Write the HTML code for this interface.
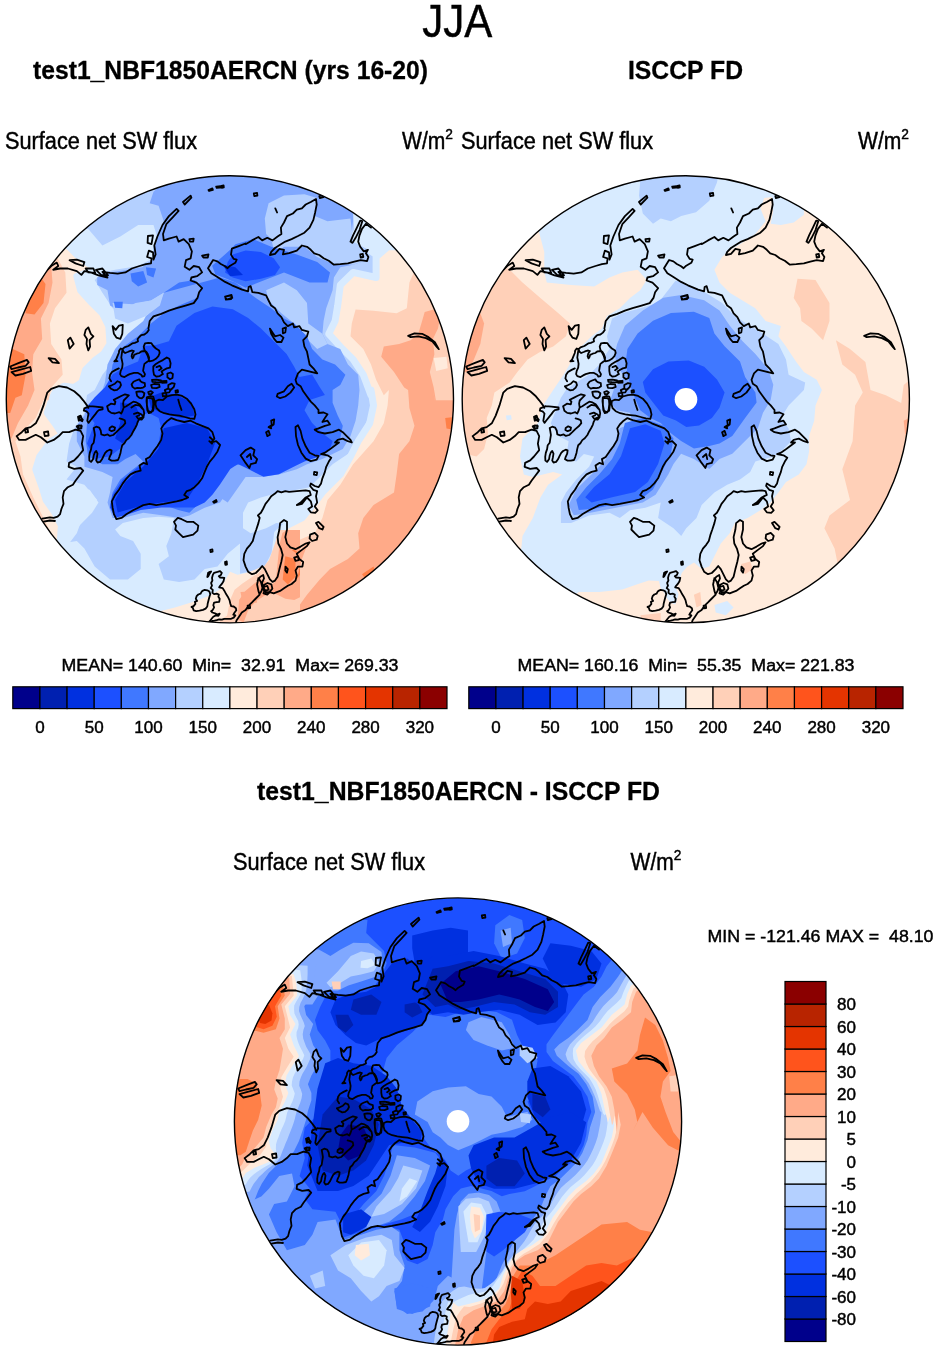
<!DOCTYPE html>
<html><head><meta charset="utf-8"><title>JJA</title>
<style>html,body{margin:0;padding:0;background:#fff}svg{display:block}
text{font-family:"Liberation Sans",sans-serif;fill:#000;stroke:#000;stroke-width:0.45px;white-space:pre}text[font-weight=bold]{stroke-width:0.3px}</style></head>
<body><svg width="938" height="1352" viewBox="0 0 938 1352">
<rect width="938" height="1352" fill="#fff"/>
<clipPath id="cl0"><circle cx="229.9" cy="399.3" r="223.6"/></clipPath>
<clipPath id="cl1"><circle cx="685.8" cy="399.3" r="223.6"/></clipPath>
<clipPath id="cl2"><circle cx="458" cy="1121.5" r="223.6"/></clipPath>
<defs><path id="coast" d="M46.1 271.1L51.2 266.0L56.8 262.6L58.3 266.0L53.2 269.8L60.1 268.5L67.8 268.5L76.8 271.1L81.4 274.9L84.4 271.1L90.8 272.4L98.5 275.4L107.5 277.5L102.4 271.8L110.0 272.9L117.7 273.6L125.4 272.4L131.8 268.5L139.5 266.0L145.9 264.2L151.0 263.4L151.5 258.3L147.1 257.0L148.9 250.6L153.0 252.4L153.5 259.6L155.6 254.4L154.3 245.5L157.4 236.5L162.5 225.0L168.9 216.1L176.6 208.9L178.6 210.9L172.7 217.3L166.3 224.2L163.0 234.0L163.8 240.4L168.9 238.6L176.6 236.5L178.6 241.6L183.7 239.1L188.8 244.2L191.9 251.4L190.6 258.3L186.0 260.1L184.7 266.7L189.4 269.8L193.7 266.0L199.1 267.2L202.1 272.4L197.0 276.2L191.4 277.5L190.6 280.5L196.5 282.6L202.1 288.2L199.1 292.3L197.5 297.9L193.7 303.1L185.5 305.6L176.6 308.2L168.9 310.7L161.2 313.8L153.5 316.4L149.7 321.0L148.4 328.6M69.6 260.1L76.8 259.6L84.4 262.1L83.2 266.0L75.5 263.4ZM85.7 268.5L93.4 268.5L95.2 272.9L88.3 272.4ZM96.0 269.8L102.4 268.5L108.0 275.4L101.1 274.9ZM147.9 236.0L153.0 235.3L151.5 244.2L147.6 242.9ZM183.0 202.0L190.6 195.6L191.4 197.6L184.7 204.5ZM208.5 190.0L212.4 188.4L212.9 190.0L209.1 191.0ZM216.2 186.6L222.6 185.9L223.1 187.4L216.7 187.9ZM189.4 239.1L193.7 238.6L193.2 241.6L189.9 241.6ZM202.1 255.7L208.5 254.4L207.8 257.5L203.4 257.5ZM225.2 296.7L231.6 295.4L231.1 299.2L225.9 299.7ZM112.6 326.1L115.7 329.9L119.0 325.6L122.8 324.8L122.3 333.8L120.3 338.9L116.4 337.6L113.9 333.8ZM85.7 329.9L88.3 327.4L90.8 333.8L93.4 336.3L89.6 340.2L90.1 346.6L88.3 350.4L86.5 344.0L87.0 338.9L84.4 335.0ZM67.8 340.2L70.4 337.6L73.7 344.0L69.6 348.6L68.6 344.0ZM48.6 358.1L55.0 358.8L58.9 363.2L52.5 362.4ZM10.2 366.5L18.4 363.2L26.9 359.9L28.7 362.4L25.6 365.8L17.9 367.5L11.5 369.1ZM11.5 372.1L20.5 369.6L30.2 367.0L31.2 370.9L23.0 373.9L15.4 375.5ZM47.3 392.6L51.2 388.8L58.9 386.2L67.0 387.5L74.2 391.3L79.3 395.7L83.2 400.3L87.0 405.4L88.3 407.9M47.3 392.6L47.3 392.6L43.5 405.4L39.7 415.6L35.8 423.3L30.7 427.1L25.6 428.4L21.8 432.2L16.6 436.1L19.2 439.9L25.6 439.9L30.7 437.3L35.8 434.8L40.9 437.3L47.3 442.5L53.7 439.9L58.9 436.1L62.7 432.2L69.1 432.2L75.5 429.7L80.6 430.9L83.2 436.1L81.9 443.7L83.2 450.1L78.0 456.5L74.2 460.4L69.1 462.9L68.6 466.8L74.2 468.8L80.6 468.0L83.2 470.6L79.3 475.7L75.5 480.8L72.9 484.7L67.8 487.2L64.0 491.1L62.7 497.5L63.5 503.9L61.4 509.0L60.1 514.1L57.6 516.7L53.7 517.9L49.9 517.4L42.2 518.7M42.2 521.8L49.9 520.5L55.0 521.0M78.0 416.9L80.6 415.6L81.9 419.4L78.8 420.7ZM78.0 425.8L81.4 425.3L81.4 428.4L78.3 428.9ZM44.0 432.2L48.1 431.5L48.6 435.5L44.8 436.1ZM25.1 429.7L27.6 428.9L28.1 432.2L25.6 432.7ZM89.8 406.2L95.6 406.6L102.6 407.5L102.6 409.4L98.8 410.1L97.5 411.3L95.6 413.9L93.0 417.1L90.5 420.3L88.5 422.9L87.3 420.9L87.9 417.1L88.5 413.5L86.6 411.3L83.8 410.7L84.3 408.4L87.3 407.1L89.8 406.2M78.7 417.1L80.2 416.5L82.8 419.7L82.2 421.2L80.0 419.7ZM76.7 426.3L79.0 425.4L81.8 426.1L81.3 428.0L77.7 428.1ZM107.1 406.2L110.9 403.7L114.8 404.3L115.4 401.7L113.8 399.8L117.6 397.9L121.2 396.0L125.0 394.3L128.8 395.4L126.3 397.9L123.7 400.5L123.1 403.7L123.7 407.5L122.4 411.3L121.2 413.5L119.3 412.2L115.0 413.5L111.2 412.9L108.4 410.7ZM109.7 428.0L112.2 426.3L115.0 427.6L114.5 430.1L111.6 431.2L109.4 429.9ZM123.7 407.5L126.3 406.2L130.1 403.7L133.3 401.7L136.5 402.4L139.7 404.3L141.6 406.9L143.6 410.1L144.2 413.3L143.6 416.5L141.6 417.7L139.7 418.4L137.8 421.6L136.8 424.8L135.2 428.0L133.3 431.2L131.4 435.0L128.8 438.2L126.3 440.1L124.4 443.3L122.2 445.2L121.2 449.1L120.5 452.9L119.3 456.8L118.0 460.0L114.8 460.6L111.6 460.6L109.0 459.3L109.7 456.8L111.2 453.6L111.6 450.4L109.7 449.7L107.1 451.0L105.2 452.9L103.5 456.1L102.0 459.3L100.1 461.9L97.5 462.5L96.2 460.6L96.9 457.4L97.5 453.6L96.2 451.0L94.9 452.3L93.7 455.5L93.0 459.3L91.1 461.9L89.4 460.6L89.2 456.8L89.8 452.9L91.1 449.1L91.7 445.2L93.7 442.7L94.3 438.8L94.9 435.0L94.3 431.2L93.7 428.0L96.2 426.7L99.2 427.6L100.7 430.5L101.3 434.4L104.3 435.3L107.7 434.4L109.9 435.9L113.2 435.0L116.3 432.2L119.6 428.9L122.7 426.3L125.3 423.2L124.8 420.3L122.2 419.1L119.6 418.4M131.4 407.5L135.2 404.9L139.7 405.6L142.3 408.8M134.0 413.9L137.8 412.6L141.6 414.5L143.6 417.1L141.6 419.7L138.4 419.0L136.5 416.5L139.1 415.2M146.8 397.3L150.0 396.0L153.2 396.6L154.4 400.5L153.8 405.6L153.2 410.7L150.6 412.0L148.0 410.7L147.0 405.6L146.5 401.1ZM116.4 519.2L113.9 514.1L112.6 507.7L111.8 501.3L115.1 494.9L119.0 489.8L122.8 483.4L126.7 478.3L130.5 474.4L135.6 471.9L140.7 470.6L139.5 465.5L143.3 462.9L147.1 464.2L145.9 459.1L149.7 457.0L153.5 451.4L157.4 446.3L161.2 439.9L162.5 433.5L161.2 428.4L163.8 424.5L167.6 420.7L171.4 418.1L176.6 420.2L184.2 422.0L190.6 420.7L195.8 423.3L202.1 425.8L208.5 428.4L212.4 432.2L214.4 438.6L211.1 442.5L216.2 441.2L220.1 445.0L217.5 451.4L213.7 457.0L209.8 461.6L206.8 466.8L204.7 471.9L202.1 478.3L198.3 483.4L194.5 487.2L190.6 489.8L186.8 491.1L184.2 494.9L188.1 497.5L182.2 500.0L176.6 501.3L170.2 502.6L163.8 503.9L156.1 505.1L149.7 503.9L143.3 505.1L138.2 507.7L133.1 510.3L126.7 514.1L121.5 517.9ZM209.8 437.3L212.9 439.9L211.9 443.7L209.3 441.2M174.0 521.8L177.8 517.9L181.7 519.2L186.8 521.8L193.2 521.8L198.3 525.6L197.5 530.7L193.2 534.6L188.1 535.9L183.0 537.1L179.1 533.3L175.3 529.5L176.0 525.6ZM213.2 501.8L216.2 500.0L216.7 501.6L213.9 502.8ZM210.3 549.9L212.4 549.4L212.6 551.7L210.6 552.0ZM225.2 562.0L226.7 561.4L227.0 564.5L225.4 564.8ZM209.9 622.7L212.4 621.0L214.5 620.6L216.7 620.1L219.2 619.3L221.8 619.7L224.3 618.8L227.8 618.8L231.2 618.8L233.7 617.6L235.4 615.4L233.3 614.6L234.6 612.5L236.3 610.3L235.9 608.2L233.7 606.5L231.2 606.1L230.3 603.5L229.5 600.1L227.8 596.7L226.1 594.1L224.3 590.7L222.6 588.1L219.2 587.3L219.7 586.4L221.8 583.9L223.5 581.3L224.3 577.9L220.1 577.5L218.8 576.2L220.9 574.9L221.8 572.8L220.1 571.1L217.5 571.9L214.1 572.8L212.8 574.9L212.0 577.9L212.4 580.5L211.1 583.0L212.0 585.6L210.7 588.1L212.8 589.9L212.4 592.8L214.1 594.1L216.7 593.7L218.8 594.5L218.4 596.7L219.7 598.8L219.2 601.8L216.7 602.2L214.1 602.6L213.3 605.2L214.1 607.3L212.8 609.9L211.1 611.2L212.4 612.5L215.0 613.3L217.5 614.6L219.7 613.7L218.4 615.9L215.8 615.4L213.3 616.7L211.6 618.8L209.9 621.0L208.6 622.3M208.1 572.8L209.9 571.9L211.1 571.5L209.4 574.1L208.1 576.6L207.3 577.1ZM204.7 589.9L207.3 590.3L209.4 591.6L210.3 594.1L209.4 597.1L208.6 600.1L207.7 603.5L207.3 606.5L205.6 608.6L203.0 609.9L199.6 610.7L196.2 611.2L193.6 610.3L192.8 607.8L191.5 606.9L193.6 606.1L195.4 603.9L194.9 601.8L197.1 600.9L195.8 598.8L196.6 596.2L198.3 594.5L200.5 593.7L201.7 591.6L203.5 590.3ZM148.8 330.0L146.9 332.6L144.4 334.5L141.2 335.1L139.3 337.0L137.6 339.0L138.0 341.5L134.8 342.8L132.2 343.4L128.4 346.0L124.5 347.3L122.6 349.2L120.7 348.5L119.2 350.5L118.8 353.0L117.5 356.2L116.2 359.4L114.3 361.3L117.5 361.1M122.6 349.2L122.0 352.4L121.3 357.5L122.0 360.7L122.6 363.9L122.2 367.7L120.7 370.9L120.1 374.1L121.3 376.1L124.5 377.1L127.1 375.4L129.7 374.1L134.1 372.9L138.0 372.9L141.2 374.8L142.4 376.7L144.4 376.1L145.0 374.1L143.1 370.9L143.7 367.1L144.4 363.9L146.9 362.0L148.8 360.7L149.1 357.5L147.6 353.7L146.3 351.7L143.7 351.1L141.2 351.5L139.3 353.0L136.7 353.7L134.1 354.9L133.5 356.9L132.5 358.4L131.6 356.2L132.2 353.7L133.8 351.1L132.2 350.5L129.7 351.1L127.7 352.0L125.2 353.0L123.5 351.7ZM145.0 343.4L148.2 342.8L151.4 343.2L153.3 346.0L155.9 348.5L159.1 350.5L159.7 353.0L158.4 356.2L155.9 358.8L152.7 360.7L149.5 361.3L148.6 358.8L147.6 355.6L146.3 353.0L144.4 349.8L143.7 346.6ZM118.8 368.4L115.6 369.9L112.0 372.0L110.1 374.8L109.4 378.4L111.1 381.2M108.9 386.3L111.7 385.3L114.9 383.7L117.5 381.2L120.1 382.4L121.0 385.0L119.7 387.6L117.1 389.9L114.3 390.4L111.1 388.8ZM131.6 384.4L133.5 381.8L136.1 380.5L139.3 379.3L140.5 381.2L142.4 382.4L144.8 383.1L145.0 386.3L143.1 387.6L140.5 388.2L137.3 387.8L134.8 388.6L132.5 386.9ZM136.3 392.0L139.3 391.4L142.4 391.7L144.4 393.3L143.7 396.5L141.8 398.4L139.3 397.8L137.1 395.9ZM146.9 398.4L150.1 397.8L152.9 399.1L153.3 404.2L152.7 409.3L151.4 412.5L148.8 413.2L147.3 410.0L146.9 405.5ZM148.2 392.0L150.8 391.1L152.9 392.4L151.4 394.2L148.8 394.0ZM151.1 385.0L154.0 384.0L159.1 384.4L159.7 386.9L156.5 388.2L152.0 387.8ZM152.0 379.9L156.5 379.6L161.0 380.5L160.4 382.4L155.9 382.2L152.4 381.8ZM153.3 366.5L155.9 363.9L159.1 362.0L162.9 360.1L166.8 357.5L169.3 358.8L170.6 363.3L170.0 367.7L166.8 368.4L164.2 369.7L161.6 371.6L162.9 374.1L159.7 376.1L156.5 376.7L154.0 374.8L153.3 370.9ZM156.5 367.1L159.7 365.8L161.6 368.4L159.1 370.3M167.4 373.5L170.6 372.5L172.9 374.1L172.5 378.0L170.0 379.3L167.4 377.3ZM161.9 381.2L166.5 380.9L166.5 382.7L162.0 382.8ZM168.3 385.0L171.9 383.1L174.7 383.7L173.8 386.9L171.2 389.5L168.3 388.8ZM164.8 390.1L168.0 388.6L170.6 389.9L169.3 392.4L165.7 392.7ZM162.5 393.3L166.1 392.7L166.5 395.9L162.9 396.3ZM175.5 390.6L177.8 390.1L178.0 392.2L175.7 392.7ZM155.9 401.0L159.1 399.7L162.9 400.1L166.8 396.5L171.9 395.2L177.0 394.6L182.1 395.9L187.2 399.1L191.1 403.6L194.3 409.3L195.5 414.4L194.3 418.9L189.8 418.3L184.7 417.0L179.5 415.7L174.4 415.1L169.3 414.4L164.2 413.2L159.7 411.2L156.5 408.0L155.5 404.2ZM178.3 399.7L179.5 404.2L181.5 410.0M252.3 292.1L250.6 286.1L248.6 287.0L248.1 291.3L242.1 289.6L231.9 285.3L225.1 281.9L218.2 277.6L211.4 273.3L208.0 268.2L213.1 260.0L217.4 261.4L220.8 264.0L225.1 266.2L227.6 268.2L230.2 265.7L235.3 262.8L236.7 259.7L233.6 258.8L231.0 254.6L231.9 248.6L238.7 246.1L245.5 243.5L245.6 244.2L252.0 240.4L258.4 237.0L262.2 240.4L267.3 237.8L272.5 240.4L277.6 236.5L281.4 234.0L280.9 227.6L284.0 222.5L287.0 216.1L292.9 213.5L296.8 209.7L301.9 208.4L305.7 204.5L310.8 202.0L316.0 198.9L316.7 204.5L315.2 212.2L313.4 219.9L309.6 227.6L304.4 232.7L298.0 236.0L291.6 239.1L285.3 241.6L280.1 244.7L275.0 248.0L271.2 251.9L269.9 255.0L275.0 253.9L279.4 248.8L284.0 249.8L282.9 254.4L289.1 253.2L296.8 250.6L301.9 245.5L307.0 246.8L310.8 249.8L314.2 253.4L319.3 255.0L323.6 258.3L328.8 260.8L333.9 264.7L340.3 264.2L347.9 263.4L354.3 261.6L360.7 260.1L367.1 261.1L368.4 257.0L365.9 253.2L367.9 249.8L363.8 251.4L360.2 246.8L358.2 241.6L359.5 235.3L362.0 228.9L365.9 223.7L371.0 227.6M350.5 241.6L353.1 235.3L356.9 227.6L360.2 220.7L362.3 221.2L359.5 230.1L355.6 237.8L352.5 242.9ZM360.2 254.4L362.8 253.9L363.3 257.0L360.7 257.5ZM221.5 185.9L223.6 185.4L223.8 187.4L221.8 187.9ZM253.8 193.5L257.1 193.0L257.4 195.6L254.3 196.1ZM275.3 208.4L277.1 212.5M319.3 196.1L322.9 195.1L323.4 197.1L319.8 198.1ZM408.1 335.8L414.5 333.3L422.1 333.8L428.5 337.1L434.9 342.2L438.8 349.1L437.0 347.1L432.4 341.4L426.0 338.1L418.3 336.3L410.6 337.1ZM252.3 292.1L258.4 292.8L266.1 295.4L268.6 300.5L271.2 305.6L275.0 308.2L277.6 313.3L281.4 317.1L284.0 322.3L287.8 326.1L292.9 323.5L294.2 327.4L299.3 326.1L301.9 329.9L308.3 331.7L307.0 336.3L303.2 340.2L304.4 346.6L307.0 351.7L308.3 358.1L309.6 364.5L313.4 368.3L317.2 373.4L312.1 372.1L307.0 370.9L301.9 369.6L298.0 373.4L295.5 379.8L296.8 383.7L300.6 386.2L303.2 391.3L307.0 396.5L310.8 401.6L314.7 405.4L318.5 410.0M269.9 328.6L272.5 332.5L275.0 336.3L280.1 335.0L283.5 337.6L281.4 342.0L276.8 342.0L274.2 338.9L271.2 333.8ZM282.7 328.6L286.0 327.4L285.3 332.5L282.9 333.3ZM277.6 393.9L284.0 391.3L287.8 386.2L291.6 383.7L294.2 387.5L290.4 392.6L285.3 396.5L280.1 398.2L276.8 396.5ZM225.1 296.7L231.5 294.9L232.3 297.9L226.4 299.7ZM318.5 410.0L318.5 413.0L323.6 412.5L327.5 414.3L324.9 418.1L322.4 422.0L327.5 420.7L330.0 424.5L324.9 425.8L318.5 428.4L314.7 429.7L318.5 432.2L324.9 433.5L332.6 432.2L339.0 429.7L342.8 432.2L346.7 436.1L350.5 439.9L351.8 442.5L347.9 441.2L342.8 438.6L337.7 439.9L335.1 442.5L339.0 442.5L333.9 446.3L328.8 450.1L324.9 452.7L321.1 454.0L327.5 455.3L331.3 457.8L328.8 461.6L326.2 466.8L324.9 471.9L322.4 478.3L321.1 483.4L318.5 487.2L314.7 486.0L310.8 483.4L310.1 486.0L313.4 489.8L317.2 491.1L316.0 496.2L317.2 502.6L314.7 506.4L317.7 510.3L315.2 512.8L310.8 512.3L308.3 509.0L312.1 506.4L310.8 501.3L307.0 497.5L301.9 503.9L296.8 505.1L300.6 502.6L305.7 497.5L310.8 494.9L309.6 491.1L305.7 490.3L296.8 491.1L289.1 491.8L285.3 491.1L281.4 492.4L277.6 491.1L275.0 493.6L271.2 496.2L268.6 500.0L265.5 503.9L263.0 509.0L260.9 512.8L257.9 515.4L259.7 517.9L258.4 523.1L256.3 529.5L254.5 534.6L252.8 541.0L250.2 544.8L246.9 548.6L244.3 553.8L243.5 560.2L245.6 566.6L248.1 571.7L252.0 574.2L255.8 573.0L259.7 569.1L262.2 566.0L264.8 569.1L267.3 574.2L269.9 579.4L272.5 581.9L275.0 580.6L277.6 576.8L279.4 569.1L281.4 561.4L282.7 555.0L280.9 548.6L278.3 543.5L277.6 537.1L279.4 529.5L280.1 523.1L284.0 520.0L287.0 521.8L287.0 529.5L285.3 537.1L287.0 543.5L290.4 547.4L295.5 549.2L300.6 546.6L305.7 543.5L309.6 542.3L307.0 546.1L301.9 549.9L296.8 553.8L299.3 558.9L303.2 562.0L302.4 566.6L298.0 566.6L295.5 570.4L296.8 575.5L295.5 580.6L291.6 584.0L287.8 585.8L284.0 588.3L280.1 590.9L276.8 592.1L273.7 593.4L269.9 592.1L267.3 594.7L263.5 593.4L264.8 589.6L262.2 587.0L260.9 581.9L258.4 578.1L257.1 584.5L258.4 590.9L259.7 594.7L255.8 598.5L252.0 602.4L248.1 606.2L245.6 610.1L241.8 612.6L239.2 616.5L236.6 620.3L235.4 624.1M295.5 427.1L298.0 425.3L300.6 430.9L302.4 438.6L305.7 446.3L309.6 452.7L314.7 455.3L318.5 456.0L316.7 459.6L310.8 461.1L305.7 458.6L301.4 452.7L298.0 445.0L296.0 436.1ZM240.5 455.3L245.6 450.1L250.7 447.6L254.5 450.1L253.3 455.3L257.1 459.1L255.8 462.9L250.7 464.2L249.4 468.0L245.6 462.9L243.0 459.1ZM246.9 457.0L250.2 454.0L251.2 459.1M266.1 432.2L268.6 430.9L269.9 434.8L267.3 436.1ZM271.2 420.7L274.2 419.4L273.7 424.5L271.9 425.8ZM268.6 427.1L270.7 425.8L271.2 428.4ZM314.2 471.9L317.2 472.4L316.7 475.2L313.9 474.7ZM310.1 534.6L314.7 532.8L317.7 535.9L316.7 539.7L312.1 541.0L309.6 538.4ZM316.0 523.1L318.5 521.8L323.6 526.9L322.4 529.5L319.3 528.2ZM285.5 566.6L287.8 569.1L287.0 572.7L285.3 570.4ZM294.2 557.6L298.0 556.3L298.8 560.2L295.5 560.9ZM263.5 587.0L267.3 585.8L268.6 589.6L264.8 590.9ZM247.6 605.7L249.9 605.5L250.2 608.0L247.9 608.3ZM225.1 562.0L226.7 561.7L226.7 563.7L225.1 563.7ZM264.2 584.7L267.6 583.0L271.3 584.3L272.4 588.6L269.6 591.9L265.9 592.5L263.5 589.8ZM257.7 580.6L260.3 576.7L263.2 575.0L264.0 578.4L262.1 582.6L262.8 586.9L261.4 591.2L259.4 594.2" fill="none" stroke="#000" stroke-width="1.8" stroke-linejoin="round" stroke-linecap="round"/></defs>
<g clip-path="url(#cl0)">
<rect x="0" y="170" width="470" height="470" fill="#b4d0ff"/>
<path d="M88.3 228.9 L102.4 245.5 L120.3 236.5 L138.2 225.0 L153.5 225.0 L158.6 241.6 L151.0 259.6 L138.2 266.0 L115.1 269.8 L102.4 272.4 L94.7 280.0 L102.4 292.8 L112.6 308.2 L127.9 313.3 L143.3 309.5 L151.0 315.9 L138.2 333.8 L122.8 346.6 L112.6 361.9 L102.4 374.7 L94.7 390.1 L87.0 395.1 L84.4 413.0 L74.2 428.4 L69.1 443.7 L66.5 461.6 L76.8 466.8 L66.5 479.6 L84.4 484.7 L97.2 500.0 L84.4 512.8 L76.8 533.3 L69.1 543.5 L0.0 543.5 L0.0 390.0 L0.0 221.2Z" fill="#d8ebff" />
<path d="M61.4 543.5 L76.8 541.0 L84.4 548.6 L94.7 566.6 L110.0 579.4 L127.9 579.4 L140.7 569.1 L140.7 553.8 L133.1 541.0 L120.3 535.9 L115.1 529.5 L122.8 523.1 L143.3 517.9 L158.6 516.7 L174.0 517.9 L171.4 533.3 L166.3 546.1 L168.9 556.3 L158.6 564.0 L163.8 579.4 L179.1 581.9 L194.5 579.4 L204.7 569.1 L217.5 566.6 L227.7 553.8 L240.0 543.5 L240.0 630.0 L61.4 630.0Z" fill="#d8ebff" />
<path d="M76.8 487.2 L89.6 489.8 L98.5 502.6 L92.1 512.8 L76.8 528.2 L69.1 517.9 L66.5 502.6Z" fill="#d8ebff" />
<path d="M243.0 512.8 L248.1 502.6 L260.9 497.5 L278.9 492.4 L296.8 489.8 L309.6 487.2 L322.4 474.4 L332.6 464.2 L347.9 454.0 L358.2 441.2 L373.5 405.4 L399.1 405.4 L399.1 517.9 L322.4 533.3 L296.8 525.6 L276.3 523.1 L266.1 528.2 L250.7 533.3 L243.0 528.2Z" fill="#d8ebff" />
<path d="M353.1 212.2 L354.3 228.9 L347.9 241.6 L358.2 246.8 L373.5 257.0 L378.6 277.5 L399.1 246.8 L378.6 221.2Z" fill="#d8ebff" />
<path d="M67.8 245.5 L76.8 254.4 L88.3 263.4 L98.5 268.5 L76.8 276.2 L80.6 290.3 L92.1 303.1 L102.4 313.3 L108.8 326.1 L110.0 344.0 L103.6 354.2 L94.7 360.6 L85.7 369.6 L81.9 382.4 L74.2 387.5 L64.0 386.2 L55.0 392.6 L52.5 397.7 L47.3 413.0 L55.0 423.3 L62.7 434.8 L51.2 441.2 L39.7 456.5 L35.8 469.3 L42.2 487.2 L46.1 500.0 L55.0 512.8 L61.4 525.6 L60.1 543.5 L0.0 543.5 L0.0 244.2Z" fill="#ffebdc" stroke="#d8ebff" stroke-width="7" stroke-linejoin="round"/>
<path d="M57.6 258.3 L65.3 272.4 L66.5 292.8 L55.0 308.2 L49.9 323.5 L51.2 344.0 L61.4 359.4 L62.7 374.7 L51.2 387.5 L48.6 400.3 L43.5 400.2 L35.8 418.1 L25.6 428.4 L15.4 441.2 L20.5 456.5 L23.0 474.4 L33.3 497.5 L42.2 515.4 L48.6 528.2 L0.0 528.2 L0.0 257.0Z" fill="#ffd0b8" />
<path d="M51.2 266.0 L52.5 282.6 L48.6 303.1 L40.9 318.4 L42.2 338.9 L33.3 354.2 L32.0 372.1 L34.5 390.1 L28.1 405.4 L17.9 423.3 L11.5 438.6 L0.0 438.6 L0.0 264.7Z" fill="#ffaa88" />
<path d="M40.9 277.5 L45.5 283.9 L43.5 303.1 L34.5 314.6 L25.6 313.3 L25.6 277.5Z" fill="#ff8048" />
<path d="M12.8 349.1 L24.3 354.2 L25.6 374.7 L21.8 395.2 L15.4 397.7 L10.2 413.0 L0.0 413.0 L0.0 349.1Z" fill="#ff8048" />
<path d="M387.6 246.8 L376.1 257.0 L376.1 277.5 L353.1 272.4 L340.3 285.1 L337.7 305.6 L335.1 321.0 L328.8 333.8 L340.3 346.6 L353.1 359.4 L363.3 374.7 L371.0 395.2 L371.0 390.0 L373.5 405.4 L369.7 423.3 L358.2 441.2 L350.5 456.5 L340.3 474.4 L322.4 492.4 L314.7 502.6 L301.9 517.9 L286.5 525.6 L277.6 533.3 L275.0 553.8 L268.6 566.6 L262.2 574.2 L248.1 575.5 L235.4 578.1 L230.3 584.5 L217.5 592.1 L204.7 598.5 L186.8 607.5 L163.8 607.5 L163.8 630.0 L460.0 630.0 L460.0 246.8Z" fill="#ffebdc" stroke="#d8ebff" stroke-width="7" stroke-linejoin="round"/>
<path d="M414.5 271.1 L409.4 282.6 L406.8 308.2 L396.6 313.3 L373.5 310.7 L355.6 309.5 L351.8 323.5 L350.5 336.3 L363.3 349.1 L371.0 364.5 L376.1 379.8 L383.8 395.2 L388.9 390.0 L387.6 405.4 L383.8 423.3 L373.5 441.2 L353.1 464.2 L340.3 484.7 L327.5 500.0 L322.4 517.9 L314.7 533.3 L296.8 541.0 L282.7 543.5 L277.6 548.6 L275.0 558.9 L272.5 569.1 L264.8 579.4 L258.4 592.1 L248.1 599.8 L237.9 607.5 L227.7 615.2 L220.0 620.3 L220.0 630.0 L460.0 630.0 L460.0 271.1Z" fill="#ffd0b8" />
<path d="M383.8 346.6 L399.1 344.0 L410.6 340.2 L418.3 333.8 L422.1 321.0 L424.7 312.0 L433.7 309.5 L440.1 317.1 L438.0 328.6 L432.9 338.9 L434.4 354.2 L429.8 372.1 L433.7 387.5 L437.5 410.0 L432.4 390.0 L434.9 400.2 L460.0 400.2 L460.0 630.0 L294.2 630.0 L294.2 612.6 L307.0 594.7 L319.8 579.4 L330.0 569.1 L347.9 558.9 L359.5 548.6 L358.2 533.3 L363.3 517.9 L373.5 505.1 L394.0 492.4 L396.6 474.4 L399.1 454.0 L409.4 441.2 L414.5 425.8 L409.4 407.9 L408.1 390.0 L404.2 387.5 L394.0 372.1 L381.2 356.8Z" fill="#ffaa88" />
<path d="M433.7 358.1 L446.5 356.8 L447.7 368.3 L436.2 370.9Z" fill="#ffebdc" />
<path d="M194.3 601.6 L209.3 595.7 L219.7 589.7 L225.7 579.3 L230.1 571.8 L237.6 574.8 L245.1 573.3 L249.6 571.8 L255.5 569.6 L263.0 565.8 L267.5 574.8 L249.6 592.7 L219.7 613.6 L197.3 619.6 L174.9 619.6 L160.0 619.6 L160.0 611.3 L174.9 607.6Z" fill="#ffebdc" />
<path d="M225.7 622.5 L230.1 600.1 L234.6 589.7 L242.1 583.7 L251.0 577.8 L258.5 573.3 L264.5 565.8 L269.0 559.9 L273.4 547.9 L276.4 539.0 L279.4 530.0 L300.0 530.0 L300.0 630.0 L225.7 630.0Z" fill="#ffd0b8" />
<path d="M237.6 619.6 L239.1 600.1 L245.1 591.2 L254.0 583.7 L260.0 579.3 L264.5 580.7 L270.4 585.2 L274.9 582.2 L276.4 574.8 L277.9 559.9 L279.4 544.9 L282.4 533.0 L286.9 530.0 L300.0 530.0 L300.0 597.2 L294.3 600.1 L285.4 598.7 L279.4 595.7 L273.4 592.7 L264.5 595.7 L255.5 601.6 L248.1 610.6 L243.6 622.5Z" fill="#ffaa88" />
<path d="M285.4 550.9 L294.3 549.4 L300.0 553.9 L300.0 574.8 L295.8 580.7 L289.9 585.2 L285.4 580.7 L283.1 568.8 L283.9 558.4Z" fill="#ff8048" />
<path d="M287.2 559.9 L294.3 558.4 L296.6 567.3 L292.8 579.3 L288.7 579.3 L286.4 568.8Z" fill="#ff541c" />
<path d="M282.7 543.5 L296.8 553.8 L308.3 542.3 L301.9 558.9 L296.8 579.4 L289.1 587.0 L280.1 584.5 L282.7 569.1 L281.4 556.3Z" fill="#ffaa88" />
<path d="M285.3 556.3 L295.5 558.9 L295.5 576.8 L287.8 584.5 L282.7 579.4 L284.0 566.6Z" fill="#ff8048" />
<path d="M445.2 418.1 L454.1 416.9 L454.1 429.7 L446.5 428.4Z" fill="#ff8048" />
<path d="M362.0 574.2 L373.5 566.6 L376.1 574.2 L365.9 579.4Z" fill="#ff8048" />
<path d="M240.5 592.1 L255.8 590.9 L257.1 602.4 L243.0 604.9Z" fill="#ffaa88" />
<path d="M153.5 191.8 L149.7 203.3 L158.6 205.8 L163.8 221.2 L158.6 234.0 L153.5 246.8 L153.5 259.6 L142.0 267.2 L127.9 269.8 L110.0 272.4 L97.2 277.5 L97.2 285.1 L107.5 290.3 L110.0 305.6 L120.3 310.7 L135.6 303.1 L151.0 300.5 L163.8 292.8 L158.6 305.6 L145.9 315.9 L143.3 321.0 L127.9 333.8 L115.1 349.1 L107.5 364.5 L104.9 382.4 L102.4 390.1 L102.4 390.0 L87.0 405.4 L84.4 415.6 L76.8 425.8 L76.8 441.2 L84.4 456.5 L84.4 466.8 L102.4 471.9 L112.6 477.0 L110.0 492.4 L107.5 502.6 L112.6 517.9 L122.8 517.9 L143.3 512.8 L163.8 515.4 L179.1 517.9 L189.4 515.4 L204.7 507.7 L220.1 502.6 L230.3 487.2 L240.0 482.1 L240.0 482.1 L227.7 484.7 L220.0 497.5 L227.7 502.6 L245.6 477.0 L260.9 477.0 L278.9 474.4 L296.8 469.3 L307.0 464.2 L322.4 459.1 L332.6 454.0 L342.8 448.9 L350.5 436.1 L355.6 420.7 L358.2 405.4 L359.5 390.0 L359.5 390.1 L358.2 374.7 L347.9 364.5 L340.3 349.1 L327.5 344.0 L322.4 333.8 L323.6 321.0 L326.2 308.2 L332.6 290.3 L333.9 277.5 L340.3 267.2 L353.1 264.7 L368.4 259.6 L367.1 249.3 L350.5 241.6 L353.1 221.2 L353.1 212.2 L322.4 170.0 L179.1 170.0Z" fill="#80a8ff" />
<path d="M264.8 218.6 L268.6 203.3 L284.0 195.6 L304.4 194.3 L317.2 198.1 L314.7 216.1 L327.5 221.2 L350.5 218.6 L353.1 241.6 L367.1 249.3 L368.4 259.6 L353.1 264.7 L332.6 263.4 L317.2 257.0 L304.4 246.8 L284.0 246.8 L275.0 254.4 L271.2 239.1 L266.1 234.0Z" fill="#b4d0ff" />
<path d="M266.1 290.3 L284.0 282.6 L296.8 290.3 L307.0 303.1 L308.3 323.5 L322.4 333.8 L327.5 344.0 L317.2 349.1 L307.0 338.9 L294.2 323.5 L281.4 313.3 L268.6 300.5Z" fill="#b4d0ff" />
<path d="M112.6 303.1 L133.1 304.3 L151.0 300.5 L163.8 292.8 L159.9 305.6 L145.9 315.9 L127.9 323.5 L115.1 318.4Z" fill="#b4d0ff" />
<path d="M163.8 292.8 L179.1 282.6 L194.5 280.0 L202.1 287.7 L197.0 297.9 L179.1 305.6 L163.8 313.3 L151.0 323.5 L138.2 336.3 L120.3 349.1 L112.6 364.5 L110.0 379.8 L106.2 390.1 L106.2 390.0 L92.1 407.9 L87.0 423.3 L85.7 441.2 L88.3 456.5 L102.4 464.2 L117.7 464.2 L125.4 459.1 L135.6 454.0 L143.3 461.6 L133.1 469.3 L120.3 479.6 L112.6 492.4 L110.0 505.1 L115.1 517.9 L127.9 510.3 L143.3 505.1 L163.8 505.1 L179.1 510.3 L189.4 512.8 L199.6 502.6 L212.4 492.4 L222.6 477.0 L230.3 466.8 L240.0 464.2 L240.0 464.2 L250.7 469.3 L271.2 466.8 L284.0 469.3 L296.8 464.2 L307.0 459.1 L322.4 451.4 L332.6 446.3 L340.3 438.6 L342.8 425.8 L337.7 415.6 L332.6 402.8 L332.6 390.0 L332.6 390.1 L340.3 384.9 L345.4 374.7 L335.1 364.5 L322.4 359.4 L312.1 349.1 L307.0 336.3 L294.2 323.5 L284.0 318.4 L271.2 308.2 L255.8 297.9 L245.6 290.3 L235.4 282.6 L220.0 277.5Z" fill="#4078ff" />
<path d="M230.2 249.8 L235.4 244.2 L253.3 239.1 L271.2 246.8 L296.8 254.4 L317.2 262.1 L330.0 272.4 L327.5 282.6 L309.6 282.6 L296.8 277.5 L284.0 272.4 L271.2 277.5 L258.4 282.6 L245.6 287.7 L235.4 282.6 L225.9 278.5 L215.4 274.4 L212.1 265.7 L221.8 257.3Z" fill="#4078ff" />
<path d="M130.5 273.6 L143.3 271.1 L147.1 282.6 L138.2 286.4 L131.8 281.3Z" fill="#4078ff" />
<path d="M113.9 301.8 L122.8 301.8 L122.3 308.2 L115.1 307.7Z" fill="#4078ff" />
<path d="M145.9 267.2 L156.1 268.5 L153.5 277.5 L147.1 274.9Z" fill="#4078ff" />
<path d="M168.9 341.2 L176.5 325.8 L194.4 313.0 L212.4 306.6 L232.8 309.2 L248.2 318.1 L261.0 328.4 L273.8 341.2 L286.6 354.0 L294.2 366.8 L299.4 377.0 L312.1 374.4 L319.8 387.2 L324.9 394.9 L309.6 400.0 L304.5 410.3 L312.1 423.1 L322.4 433.3 L332.6 441.0 L330.1 448.6 L319.8 456.3 L304.5 461.4 L294.2 466.6 L278.9 474.2 L263.5 476.8 L248.2 469.1 L237.9 464.0 L230.3 469.1 L220.0 484.5 L212.4 494.7 L204.7 502.4 L194.4 507.5 L181.6 507.5 L161.2 507.5 L140.7 510.1 L125.4 515.2 L115.1 517.7 L110.0 507.5 L112.6 494.7 L122.8 479.4 L135.6 469.1 L148.4 458.9 L158.6 443.5 L161.2 428.2 L158.6 417.9 L148.4 412.8 L135.6 417.9 L125.4 433.3 L120.2 448.6 L110.0 456.3 L94.6 458.9 L87.0 443.5 L94.6 423.1 L84.4 410.3 L94.6 397.5 L104.9 387.2 L112.6 374.4 L125.4 366.8 L138.1 361.6 L143.3 346.3 L156.1 345.0Z" fill="#1c50ff" />
<path d="M232.8 254.4 L245.6 250.6 L260.9 251.9 L273.7 258.3 L280.1 267.2 L275.0 274.9 L260.9 278.8 L245.6 281.3 L232.8 277.5 L225.1 272.4 L227.7 262.1Z" fill="#1c50ff" />
<path d="M163.7 428.2 L186.8 423.1 L207.2 428.2 L214.9 443.5 L207.2 464.0 L197.0 484.5 L186.8 499.8 L161.2 502.4 L135.6 507.5 L117.7 512.6 L115.1 499.8 L125.4 481.9 L143.3 466.6 L158.6 448.6Z" fill="#0030e0" />
<path d="M148.4 397.5 L161.2 392.4 L176.5 394.9 L191.9 402.6 L194.4 415.4 L181.6 417.9 L161.2 412.8 L150.9 407.7Z" fill="#0030e0" />
<path d="M120.2 402.6 L135.6 405.1 L140.7 417.9 L133.0 433.3 L122.8 443.5 L115.1 438.4 L120.2 423.1Z" fill="#0030e0" />
<path d="M222.6 264.7 L235.4 267.2 L243.0 274.9 L230.2 276.2Z" fill="#0030e0" />
<use href="#coast"/>
</g>
<g clip-path="url(#cl1)">
<rect x="456" y="170" width="470" height="470" fill="#ffebdc"/>
<path d="M508.5 268.5 L522.5 282.6 L540.4 297.9 L558.4 313.3 L569.9 323.5 L566.0 336.3 L553.2 346.6 L540.4 351.7 L527.6 359.4 L517.4 372.1 L509.7 382.4 L494.4 392.6 L491.8 405.4 L486.7 418.1 L488.0 433.5 L484.1 448.9 L476.5 456.5 L466.2 454.0 L456.0 454.0 L456.0 268.5Z" fill="#ffd0b8" />
<path d="M480.3 313.3 L484.1 323.5 L480.3 344.0 L473.9 359.4 L467.5 372.1 L456.0 372.1 L456.0 313.3Z" fill="#ffaa88" />
<path d="M797.5 278.8 L815.5 280.0 L829.5 303.1 L829.5 321.0 L823.1 340.2 L811.6 328.6 L801.4 321.0 L800.1 308.2 L793.7 297.9Z" fill="#ffd0b8" />
<path d="M835.9 340.2 L850.0 349.1 L865.4 361.9 L870.5 390.1 L885.8 395.2 L901.2 402.9 L903.7 384.9 L916.0 374.7 L916.0 569.1 L839.8 569.1 L837.2 561.4 L834.6 548.6 L824.4 528.2 L829.5 515.4 L850.0 500.0 L842.3 469.3 L852.6 441.2 L855.1 405.4 L862.8 392.6 L855.1 374.7 L842.3 364.5Z" fill="#ffd0b8" />
<path d="M903.7 420.7 L911.4 416.9 L911.4 439.9 L905.0 433.5Z" fill="#ffaa88" />
<path d="M741.3 564.0 L750.2 561.4 L752.8 569.1 L745.1 574.2 L741.3 570.4Z" fill="#ffd0b8" />
<path d="M693.9 594.7 L700.3 592.1 L701.6 604.9 L696.5 607.5Z" fill="#ffd0b8" />
<path d="M640.2 615.2 L660.7 613.1 L660.7 621.6 L642.8 621.6Z" fill="#ffd0b8" />
<path d="M539.2 232.7 L544.3 251.9 L544.3 272.4 L546.8 282.6 L571.1 285.1 L594.2 286.4 L609.5 277.5 L622.3 272.4 L637.7 269.8 L646.6 280.0 L640.2 290.3 L630.0 297.9 L619.8 308.2 L607.0 315.9 L601.9 328.6 L591.6 336.3 L578.8 349.1 L571.1 361.9 L563.5 374.7 L553.2 390.1 L543.0 405.4 L537.9 423.3 L522.5 438.6 L520.0 456.5 L523.8 474.4 L532.8 477.0 L553.2 471.9 L562.2 474.4 L548.1 484.7 L540.4 497.5 L532.8 517.9 L522.5 535.9 L521.3 548.6 L507.2 569.1 L558.4 607.5 L578.8 592.1 L599.3 592.1 L622.3 589.6 L635.9 584.7 L648.7 580.4 L658.9 580.9 L660.7 588.1 L664.0 592.4 L665.8 596.8 L670.2 602.6 L675.3 604.4 L676.8 600.1 L678.6 594.2 L676.1 588.1 L678.6 581.4 L681.9 572.7 L687.1 566.8 L694.0 562.5 L701.6 569.1 L709.3 566.6 L714.4 556.3 L720.8 543.5 L729.7 533.3 L734.9 523.1 L747.6 517.9 L760.4 510.3 L770.7 502.6 L778.4 492.4 L786.0 482.1 L798.8 474.4 L806.5 464.2 L809.1 451.4 L809.1 436.1 L814.2 420.7 L815.5 405.4 L821.9 390.0 L816.7 379.8 L803.9 372.1 L796.3 361.9 L786.0 346.6 L778.4 336.3 L780.9 326.1 L765.6 321.0 L755.3 308.2 L742.5 300.5 L729.7 292.8 L719.5 282.6 L714.4 269.8 L722.1 257.0 L727.2 251.9 L740.0 244.2 L755.3 234.0 L765.6 221.2 L760.4 208.4 L764.3 198.1 L772.0 196.9 L773.2 210.9 L770.7 223.7 L780.9 225.0 L793.7 222.5 L803.9 214.8 L803.9 195.6 L676.0 157.2 L532.8 170.0Z" fill="#d8ebff" />
<path d="M714.4 604.9 L727.2 601.1 L733.6 607.5 L725.9 615.2 L715.7 612.6Z" fill="#d8ebff" />
<path d="M505.9 415.6 L511.0 415.1 L511.8 419.4 L506.7 420.2Z" fill="#d8ebff" />
<path d="M640.2 181.5 L639.0 195.6 L642.8 213.5 L653.0 223.7 L660.7 218.6 L670.9 221.2 L681.2 216.1 L696.0 212.2 L696.0 212.2 L709.3 200.7 L716.9 182.8 L718.2 176.4 L701.6 164.9 L660.7 164.9Z" fill="#b4d0ff" />
<path d="M676.1 280.0 L658.1 303.1 L640.2 308.2 L622.3 313.3 L612.1 318.4 L607.0 336.3 L609.5 349.1 L599.3 364.5 L589.1 374.7 L576.3 382.4 L566.0 390.1 L560.9 397.7 L550.7 423.3 L558.4 436.1 L568.6 441.2 L566.0 459.1 L576.3 461.6 L583.9 454.0 L594.2 456.5 L589.1 466.8 L576.3 479.6 L566.0 492.4 L560.9 502.6 L560.9 523.1 L571.1 523.1 L589.1 515.4 L609.5 512.8 L619.8 517.9 L630.0 510.3 L645.4 507.7 L660.7 502.6 L658.1 517.9 L673.5 528.2 L681.2 535.9 L686.2 528.2 L696.5 517.9 L701.6 505.1 L714.4 492.4 L727.2 484.7 L740.0 479.6 L750.2 471.9 L755.3 461.6 L773.2 456.5 L783.5 448.9 L791.1 441.2 L788.6 428.4 L780.9 418.1 L788.6 405.4 L796.3 397.7 L803.9 390.0 L805.2 382.4 L788.6 374.7 L786.0 359.4 L778.4 344.0 L763.0 333.8 L750.2 326.1 L734.9 315.9 L722.1 303.1 L701.6 290.3 L676.0 280.0Z" fill="#b4d0ff" />
<path d="M617.2 343.7 L624.9 325.8 L642.8 310.5 L663.2 297.7 L681.1 295.1 L704.2 300.2 L719.5 310.5 L729.8 325.8 L742.6 341.2 L755.4 354.0 L768.1 369.3 L773.3 384.7 L770.7 400.0 L763.0 412.8 L757.9 428.2 L745.1 441.0 L732.3 453.8 L719.5 458.9 L709.3 469.1 L693.9 458.9 L681.1 453.8 L673.5 464.0 L668.4 474.2 L655.6 494.7 L642.8 502.4 L617.2 507.5 L591.6 512.6 L573.7 515.2 L568.6 504.9 L576.2 489.6 L591.6 474.2 L604.4 461.4 L614.6 443.5 L619.7 428.2 L632.5 423.1 L630.0 412.8 L617.2 410.3 L609.5 402.6 L614.6 387.2 L624.9 377.0 L617.2 366.8 L614.6 354.0Z" fill="#80a8ff" />
<path d="M627.4 348.9 L637.6 333.5 L653.0 320.7 L670.9 313.0 L693.9 311.8 L709.3 318.1 L714.4 333.5 L724.6 346.3 L740.0 361.6 L745.1 377.0 L755.4 392.4 L756.6 402.6 L745.1 417.9 L732.3 435.9 L719.5 443.5 L709.3 446.1 L693.9 448.6 L681.1 441.0 L670.9 433.3 L660.7 423.1 L650.4 417.9 L640.2 410.3 L632.5 392.4 L627.4 374.4 L626.1 359.1Z" fill="#4078ff" />
<path d="M624.9 423.1 L642.8 417.9 L663.2 425.6 L673.5 438.4 L670.9 453.8 L663.2 469.1 L653.0 489.6 L640.2 499.8 L617.2 503.7 L594.1 508.8 L578.8 510.1 L576.2 499.8 L586.5 487.0 L599.3 474.2 L612.1 458.9 L619.7 443.5Z" fill="#4078ff" />
<path d="M642.8 382.1 L653.0 369.3 L668.4 361.6 L688.8 360.4 L704.2 366.8 L717.0 379.6 L724.6 392.4 L719.5 407.7 L711.9 417.9 L699.1 425.6 L686.3 426.9 L676.0 420.5 L663.2 415.4 L653.0 402.6 L645.3 392.4Z" fill="#1c50ff" />
<path d="M630.0 428.2 L645.3 424.3 L660.7 430.7 L664.5 443.5 L658.1 464.0 L647.9 481.9 L635.1 492.1 L612.1 497.3 L591.6 502.4 L585.2 497.3 L594.1 487.0 L609.5 474.2 L621.0 456.3 L626.1 441.0Z" fill="#1c50ff" />
<circle cx="686" cy="399.3" r="11.3" fill="#fff"/>
<use href="#coast" transform="translate(456,0)"/>
</g>
<g clip-path="url(#cl2)">
<rect x="228" y="890" width="470" height="470" fill="#1c50ff"/>
<path d="M367.5 920.1 L366.2 932.9 L376.4 943.2 L384.1 950.9 L386.6 963.6 L381.5 976.4 L373.9 986.7 L361.1 990.5 L348.3 994.4 L338.0 994.4 L325.2 996.9 L320.1 1007.1 L315.0 1019.9 L317.6 1030.2 L325.2 1040.4 L330.4 1050.6 L330.4 1066.0 L329.1 1078.8 L327.8 1091.6 L325.2 1104.4 L322.7 1112.1 L312.4 1119.7 L304.8 1127.4 L302.2 1142.7 L304.8 1158.1 L299.6 1176.0 L309.9 1188.8 L304.8 1199.0 L312.4 1209.2 L335.5 1211.8 L340.6 1222.0 L343.1 1237.4 L355.9 1233.5 L371.3 1228.4 L386.6 1225.9 L399.4 1229.7 L403.3 1239.9 L402.0 1250.2 L407.1 1260.4 L417.4 1264.3 L427.6 1259.1 L432.7 1245.1 L435.3 1232.3 L442.9 1219.5 L445.5 1209.2 L453.1 1196.2 L460.8 1188.6 L471.1 1186.0 L481.3 1188.6 L491.5 1191.1 L501.8 1196.2 L509.4 1193.9 L524.8 1191.3 L535.0 1186.2 L545.2 1181.1 L555.5 1176.0 L563.1 1168.3 L570.8 1163.2 L578.5 1155.5 L583.6 1145.3 L586.2 1135.0 L587.5 1122.2 L591.3 1112.0 L587.5 1096.7 L581.1 1086.5 L573.4 1076.2 L563.1 1068.6 L552.9 1060.9 L546.5 1051.9 L546.5 1044.3 L552.9 1035.3 L560.6 1025.1 L568.3 1014.8 L575.9 1004.6 L583.6 994.4 L593.9 986.7 L601.5 976.4 L606.6 966.2 L611.8 959.8 L688.0 959.8 L688.0 1352.0 L228.0 1352.0 L228.0 920.1Z" fill="#4078ff" />
<path d="M427.6 1014.6 L445.5 1017.1 L460.8 1012.0 L476.2 1009.4 L496.6 1012.0 L512.0 1019.7 L517.1 1035.0 L522.2 1045.3 L532.5 1050.4 L537.6 1060.6 L535.0 1073.4 L540.1 1086.2 L537.6 1096.4 L527.4 1101.6 L532.5 1114.4 L542.7 1122.0 L540.1 1132.3 L527.4 1134.8 L517.1 1139.9 L506.9 1142.5 L496.6 1150.2 L486.4 1157.9 L476.2 1165.5 L465.9 1170.6 L458.3 1175.8 L450.6 1170.6 L445.5 1160.4 L440.4 1155.3 L432.7 1150.2 L425.0 1139.9 L419.9 1127.1 L409.6 1119.5 L402.0 1109.2 L399.4 1093.9 L389.2 1088.8 L381.5 1076.0 L386.6 1058.1 L396.9 1045.3 L412.2 1032.5 L422.4 1022.2Z" fill="#4078ff" />
<path d="M393.0 1145.1 L414.8 1147.6 L435.2 1152.7 L445.5 1165.5 L440.4 1180.9 L432.7 1196.2 L425.0 1206.5 L414.8 1214.1 L402.0 1219.3 L384.1 1224.4 L363.6 1229.5 L350.8 1229.5 L353.4 1216.7 L363.6 1203.9 L376.4 1191.1 L384.1 1175.8 L389.2 1160.4Z" fill="#4078ff" />
<path d="M495.3 925.3 L509.4 915.0 L522.2 920.1 L524.8 938.1 L517.1 953.4 L501.7 958.5 L494.1 943.2Z" fill="#4078ff" />
<path d="M500.5 930.4 L510.7 927.8 L512.0 943.2 L503.0 947.0Z" fill="#80a8ff" />
<path d="M318.8 949.6 L330.4 956.0 L340.6 949.6 L353.4 942.7 L368.7 943.2 L381.5 952.1 L382.8 966.2 L376.4 976.4 L361.1 981.6 L348.3 985.4 L338.0 990.5 L327.8 990.5 L318.8 994.4 L312.4 1004.6 L228.0 1004.6 L228.0 949.6Z" fill="#80a8ff" />
<path d="M316.8 960.0 L315.0 970.7 L313.2 983.1 L311.4 995.5 L304.3 1006.2 L306.1 1015.0 L313.2 1023.9 L309.7 1034.6 L313.2 1045.2 L320.3 1055.9 L316.8 1066.5 L311.4 1075.4 L307.9 1084.3 L311.4 1093.1 L311.4 1100.2 L307.9 1110.9 L306.1 1119.8 L302.6 1130.4 L299.0 1141.1 L293.7 1151.7 L286.6 1158.8 L277.7 1164.2 L268.8 1173.0 L261.7 1183.7 L258.2 1190.8 L254.6 1200.0 L210.2 1200.0 L210.2 960.0Z" fill="#80a8ff" />
<path d="M307.6 965.7 L307.6 970.0 L307.6 974.3 L307.4 978.6 L307.1 983.0 L306.8 987.3 L305.7 991.4 L304.3 995.4 L302.6 999.3 L300.5 1003.0 L299.3 1006.9 L299.0 1010.9 L300.4 1015.0 L302.2 1018.9 L303.8 1022.5 L304.8 1026.1 L303.4 1030.1 L302.7 1034.3 L303.2 1038.5 L304.6 1042.6 L306.2 1046.7 L308.4 1050.5 L310.5 1054.2 L310.6 1057.9 L308.8 1061.9 L307.0 1065.9 L304.9 1069.7 L302.6 1073.5 L300.8 1077.4 L299.5 1081.6 L299.2 1085.8 L300.9 1089.8 L302.2 1094.0 L301.6 1098.2 L300.3 1102.4 L298.7 1106.5 L297.1 1110.5 L295.8 1114.7 L294.8 1118.9 L293.6 1123.1 L292.1 1127.2 L290.5 1131.3 L288.8 1135.4 L287.3 1139.5 L285.5 1143.5 L284.0 1147.5 L282.5 1151.1 L281.2 1154.5 L280.0 1157.4 L278.1 1160.2 L275.0 1163.2 L271.7 1166.0 L268.2 1168.5 L265.0 1171.3 L262.0 1174.2 L258.9 1177.1 L256.3 1180.4 L253.7 1183.7 L251.6 1187.4 L249.6 1191.4 L210.2 1200.0 L210.2 960.0Z" fill="#b4d0ff" />
<path d="M300.2 970.2 L300.8 974.3 L301.4 978.4 L301.6 982.6 L301.6 986.8 L301.6 991.1 L300.2 994.8 L298.1 998.4 L296.0 1001.9 L294.2 1005.4 L294.1 1009.4 L294.4 1013.4 L296.2 1017.2 L298.2 1020.9 L298.7 1024.5 L298.2 1028.1 L296.6 1032.0 L296.5 1035.9 L297.4 1040.0 L298.8 1044.0 L300.5 1047.8 L302.5 1051.6 L304.3 1055.3 L303.1 1058.8 L301.0 1062.5 L299.0 1066.2 L296.9 1069.8 L294.7 1073.5 L293.0 1077.3 L292.0 1081.4 L291.7 1085.5 L293.3 1089.4 L294.8 1093.4 L293.8 1097.4 L292.4 1101.4 L290.6 1105.2 L288.8 1109.0 L287.1 1112.8 L286.2 1116.9 L285.2 1121.1 L283.6 1125.0 L281.8 1128.8 L280.1 1132.7 L278.7 1136.7 L277.1 1140.6 L276.0 1144.6 L275.9 1148.4 L276.2 1151.9 L276.9 1155.1 L276.6 1158.1 L273.9 1161.4 L270.5 1163.7 L266.9 1165.7 L263.4 1167.8 L259.9 1170.0 L256.5 1172.2 L253.3 1174.8 L250.3 1177.5 L247.8 1180.8 L245.7 1184.4 L210.2 1200.0 L210.2 960.0Z" fill="#d8ebff" />
<path d="M350.8 956.0 L361.1 951.4 L373.9 953.4 L379.0 962.4 L373.9 971.3 L361.1 974.4 L350.8 976.4 L340.6 982.8 L330.4 987.2 L326.5 982.8 L338.0 971.3Z" fill="#b4d0ff" />
<path d="M361.1 961.1 L371.3 958.5 L375.4 964.9 L367.5 968.3 L360.5 967.7Z" fill="#d8ebff" />
<path d="M253.6 1200.0 L261.3 1196.4 L268.9 1188.8 L279.2 1176.0 L292.0 1173.4 L294.5 1186.2 L286.9 1201.6 L274.1 1204.1 L268.9 1214.4 L276.6 1232.3 L286.9 1250.2 L304.8 1245.1 L312.4 1234.8 L317.6 1222.0 L335.5 1219.5 L343.1 1239.9 L361.1 1234.8 L376.4 1229.7 L391.8 1227.1 L399.4 1232.3 L399.4 1250.2 L404.6 1265.5 L402.0 1280.9 L394.3 1291.1 L396.9 1306.5 L407.1 1314.1 L422.5 1311.6 L432.7 1301.4 L440.4 1291.1 L448.1 1291.1 L453.2 1301.4 L458.3 1316.7 L468.0 1324.4 L468.0 1352.0 L228.0 1352.0 L228.0 1200.0Z" fill="#80a8ff" />
<path d="M330.4 1255.3 L345.7 1245.1 L366.2 1237.4 L381.5 1234.8 L391.8 1239.9 L394.3 1255.3 L404.6 1268.1 L399.4 1280.9 L386.6 1286.0 L379.0 1296.2 L371.3 1301.4 L361.1 1291.1 L350.8 1278.3 L338.0 1270.6Z" fill="#b4d0ff" />
<path d="M348.3 1255.3 L361.1 1242.5 L379.0 1239.9 L386.6 1250.2 L384.1 1265.5 L373.9 1278.3 L363.6 1275.8 L353.4 1265.5Z" fill="#d8ebff" />
<path d="M355.9 1245.1 L368.7 1243.8 L370.0 1255.3 L361.1 1260.4 L354.7 1255.3Z" fill="#ffebdc" />
<path d="M309.9 1275.8 L322.7 1270.6 L325.2 1286.0 L315.0 1288.6Z" fill="#b4d0ff" />
<path d="M453.1 1252.0 L454.4 1229.5 L457.0 1214.1 L460.8 1201.4 L468.5 1193.7 L478.7 1192.4 L489.0 1195.0 L496.6 1201.4 L500.5 1211.6 L496.6 1221.8 L491.5 1232.1 L486.4 1252.0 L481.3 1293.5 L450.6 1293.5Z" fill="#80a8ff" />
<path d="M458.3 1206.5 L465.9 1198.8 L478.7 1197.5 L489.0 1201.4 L492.8 1211.6 L489.0 1224.4 L483.9 1237.2 L476.2 1252.0 L460.8 1252.0 L459.5 1229.5Z" fill="#b4d0ff" />
<path d="M463.4 1211.6 L471.1 1202.6 L481.3 1203.9 L486.4 1214.1 L482.6 1229.5 L477.5 1242.3 L468.5 1242.3 L465.9 1226.9Z" fill="#d8ebff" />
<path d="M471.1 1206.5 L480.0 1207.8 L483.9 1216.7 L481.3 1232.1 L474.9 1238.5 L471.1 1229.5 L469.8 1216.7Z" fill="#ffebdc" />
<path d="M473.6 1214.1 L480.0 1215.4 L480.0 1229.5 L474.9 1232.1Z" fill="#ffd0b8" />
<path d="M623.3 968.8 L618.2 976.4 L610.5 986.7 L600.3 996.9 L592.6 1007.1 L587.5 1019.9 L577.2 1030.2 L568.3 1037.9 L559.3 1044.3 L554.2 1049.4 L556.8 1055.8 L568.3 1066.0 L578.5 1073.7 L586.2 1083.9 L592.6 1096.7 L595.1 1112.1 L590.0 1127.4 L587.5 1140.1 L582.3 1152.9 L575.9 1163.2 L568.3 1170.9 L560.6 1178.5 L550.4 1186.2 L545.2 1196.4 L540.1 1209.2 L532.4 1219.5 L524.8 1224.6 L519.6 1232.3 L512.0 1245.1 L506.9 1255.3 L501.7 1265.5 L496.6 1278.3 L486.4 1288.6 L473.6 1291.1 L463.4 1286.0 L453.1 1278.3 L448.0 1275.8 L437.8 1286.0 L432.6 1306.5 L427.5 1329.5 L425.0 1352.0 L448.0 1367.9 L703.9 1367.9 L703.9 943.2Z" fill="#80a8ff" />
<path d="M626.4 975.4 L623.2 981.1 L620.0 986.7 L617.0 992.3 L612.7 997.0 L607.9 1001.4 L603.4 1006.0 L599.4 1011.2 L595.9 1016.6 L592.6 1022.0 L588.5 1026.8 L583.6 1031.1 L578.8 1035.4 L574.1 1039.9 L569.9 1044.5 L567.3 1049.2 L565.5 1054.2 L567.3 1059.7 L571.4 1064.6 L576.2 1069.0 L580.8 1073.4 L584.9 1078.2 L588.7 1083.3 L591.6 1088.9 L594.2 1094.8 L596.6 1100.8 L598.6 1106.9 L600.0 1110.9 L601.5 1112.5 L600.9 1117.5 L600.2 1123.8 L599.0 1130.1 L597.7 1136.5 L595.8 1142.6 L593.3 1148.7 L590.6 1154.6 L587.6 1160.3 L583.9 1165.6 L579.6 1170.4 L575.2 1175.2 L570.5 1179.6 L565.4 1183.7 L560.8 1188.0 L557.1 1193.2 L553.7 1198.7 L550.7 1204.4 L547.1 1209.8 L543.2 1215.0 L538.7 1219.5 L534.5 1224.3 L531.1 1229.8 L528.0 1235.5 L524.6 1241.0 L520.7 1246.0 L516.9 1251.0 L512.8 1255.7 L508.8 1260.5 L505.3 1265.6 L502.2 1271.3 L498.2 1276.3 L494.3 1281.4 L489.5 1284.7 L484.8 1287.9 L480.4 1288.7 L475.1 1288.6 L469.9 1287.7 L464.3 1286.4 L458.6 1287.2 L453.4 1290.6 L448.4 1294.3 L445.0 1298.7 L442.0 1301.2 L440.3 1307.2 L438.9 1313.5 L437.6 1319.9 L436.4 1326.3 L435.3 1332.7 L434.4 1339.1 L433.5 1345.6 L432.7 1352.0 L448.0 1367.9 L703.9 1367.9 L703.9 943.2Z" fill="#b4d0ff" />
<path d="M628.8 980.8 L626.0 986.5 L623.4 992.3 L621.2 998.2 L616.9 1002.7 L612.0 1006.9 L607.4 1011.3 L603.4 1016.3 L599.7 1021.5 L595.6 1026.3 L591.0 1030.6 L586.0 1034.6 L581.1 1038.7 L576.7 1043.2 L573.2 1048.3 L572.8 1053.8 L573.4 1059.1 L576.3 1064.3 L580.4 1069.2 L585.0 1073.7 L589.4 1078.3 L592.6 1083.6 L595.6 1089.2 L597.6 1095.1 L599.5 1101.2 L601.4 1107.3 L603.1 1113.4 L604.8 1115.5 L606.7 1113.0 L607.2 1117.1 L607.5 1123.3 L606.7 1129.6 L605.5 1135.9 L603.5 1142.0 L601.1 1147.9 L598.6 1153.8 L595.9 1159.6 L592.7 1165.1 L588.7 1170.1 L584.5 1174.9 L579.9 1179.4 L574.9 1183.5 L570.1 1187.5 L565.8 1192.2 L561.8 1197.1 L558.3 1202.4 L554.7 1207.7 L550.8 1212.8 L546.6 1217.6 L543.1 1222.8 L540.0 1228.4 L537.0 1234.1 L533.7 1239.5 L529.2 1243.9 L524.6 1248.2 L519.7 1251.8 L514.9 1255.7 L510.4 1260.0 L507.0 1265.4 L503.4 1270.7 L500.1 1276.1 L496.5 1280.7 L493.3 1285.4 L490.1 1289.0 L485.3 1291.3 L480.1 1292.8 L474.3 1293.4 L468.5 1295.0 L462.8 1297.4 L457.2 1299.9 L452.3 1302.8 L448.2 1302.1 L446.5 1307.7 L445.1 1314.0 L444.0 1320.3 L442.8 1326.6 L441.7 1333.0 L440.8 1339.3 L439.8 1345.7 L438.8 1352.0 L448.0 1367.9 L703.9 1367.9 L703.9 943.2Z" fill="#d8ebff" />
<path d="M631.0 985.4 L627.1 994.4 L624.6 1004.6 L611.8 1014.8 L601.5 1027.6 L591.3 1035.3 L581.1 1043.0 L575.9 1050.6 L578.5 1060.9 L586.2 1071.1 L596.4 1081.4 L601.5 1094.1 L604.1 1106.9 L607.9 1122.3 L611.8 1112.0 L614.3 1124.8 L611.8 1137.6 L606.6 1150.4 L601.5 1163.2 L593.9 1173.4 L586.2 1181.1 L575.9 1188.8 L568.3 1196.4 L560.6 1206.7 L552.9 1216.9 L547.8 1227.1 L542.7 1237.4 L532.4 1245.1 L522.2 1250.2 L514.5 1255.3 L509.4 1263.0 L503.0 1275.8 L499.2 1288.6 L491.5 1296.2 L478.7 1301.4 L468.5 1303.9 L458.2 1306.5 L453.1 1302.6 L450.6 1314.1 L448.0 1329.5 L444.2 1352.0 L448.0 1367.9 L703.9 1367.9 L703.9 943.2Z" fill="#ffebdc" />
<path d="M633.5 988.6 L631.2 994.4 L629.2 1000.4 L628.1 1006.6 L624.4 1011.2 L619.5 1015.2 L614.7 1019.2 L610.2 1023.6 L606.2 1028.3 L601.9 1033.0 L597.3 1037.2 L592.6 1041.3 L588.5 1045.9 L585.1 1051.1 L584.5 1056.8 L586.3 1062.8 L589.0 1068.4 L592.5 1073.6 L596.4 1078.5 L600.3 1083.4 L603.8 1088.6 L605.9 1094.5 L607.6 1100.5 L608.7 1106.7 L609.7 1112.9 L610.9 1119.1 L612.0 1125.2 L613.1 1122.9 L614.4 1116.8 L615.4 1115.3 L616.5 1119.6 L616.8 1125.7 L616.1 1131.9 L614.5 1138.0 L612.4 1143.9 L610.1 1149.7 L607.7 1155.6 L605.1 1161.3 L602.0 1166.7 L598.6 1171.9 L594.7 1176.8 L590.6 1181.5 L585.8 1185.6 L581.1 1189.7 L576.4 1193.8 L572.0 1198.4 L567.9 1203.1 L564.1 1208.0 L560.3 1213.1 L556.9 1218.3 L553.6 1223.7 L550.6 1229.2 L547.6 1234.6 L543.6 1239.3 L539.6 1243.9 L534.3 1247.3 L529.1 1250.7 L523.6 1253.7 L518.9 1257.4 L514.6 1261.7 L510.8 1266.5 L507.7 1272.0 L505.6 1277.8 L503.4 1283.7 L500.2 1288.9 L496.8 1293.7 L492.1 1297.5 L487.3 1301.1 L481.5 1303.3 L475.5 1305.2 L469.5 1307.1 L464.0 1306.5 L460.5 1310.7 L457.2 1315.4 L455.4 1321.3 L453.7 1327.4 L452.4 1333.5 L451.2 1339.7 L450.0 1345.9 L448.6 1352.0 L448.0 1367.9 L703.9 1367.9 L703.9 943.2Z" fill="#ffd0b8" />
<path d="M636.1 991.8 L632.2 1002.0 L631.0 1012.3 L622.0 1019.9 L611.8 1027.6 L604.1 1037.9 L596.4 1045.5 L591.3 1055.8 L593.9 1066.0 L599.0 1076.2 L606.6 1086.5 L611.8 1096.7 L614.3 1109.5 L616.9 1132.0 L618.2 1112.0 L620.7 1124.8 L618.2 1137.6 L613.0 1150.4 L606.6 1165.7 L599.0 1178.5 L591.3 1186.2 L581.1 1193.9 L573.4 1201.6 L565.7 1211.8 L558.0 1222.0 L552.9 1232.3 L547.8 1242.5 L537.6 1250.2 L524.8 1255.3 L517.1 1260.4 L512.0 1268.1 L508.1 1278.3 L504.3 1291.1 L496.6 1301.4 L483.8 1306.5 L473.6 1310.3 L463.4 1316.7 L458.2 1329.5 L455.7 1342.3 L453.1 1352.0 L448.0 1367.9 L703.9 1367.9 L703.9 943.2Z" fill="#ffaa88" />
<path d="M645.0 1017.4 L639.9 1035.3 L637.4 1050.6 L627.1 1063.4 L611.8 1068.6 L614.3 1081.4 L627.1 1094.1 L634.8 1109.5 L637.4 1122.3 L632.2 1132.0 L642.5 1112.0 L652.7 1127.4 L668.1 1145.3 L678.3 1150.4 L688.0 1150.4 L673.2 1132.0 L665.5 1112.1 L660.4 1096.7 L662.9 1081.4 L670.6 1071.1 L668.1 1058.3 L662.9 1040.4 L655.3 1025.1Z" fill="#ff8048" />
<path d="M669.3 1076.2 L678.3 1075.0 L678.3 1091.6 L670.6 1091.6Z" fill="#ffd0b8" />
<path d="M652.7 1232.3 L639.9 1229.7 L627.1 1222.0 L601.5 1224.6 L586.2 1234.8 L570.8 1245.1 L555.5 1255.3 L545.2 1260.4 L532.4 1265.5 L519.6 1265.5 L513.3 1275.8 L510.7 1291.1 L505.6 1303.9 L496.6 1314.1 L486.4 1319.3 L476.1 1329.5 L471.0 1342.3 L468.5 1352.0 L688.0 1352.0 L688.0 1232.3Z" fill="#ff8048" />
<path d="M647.6 1250.2 L632.2 1257.9 L616.9 1265.5 L601.5 1263.0 L586.2 1265.5 L570.8 1275.8 L555.5 1286.0 L540.1 1286.0 L532.4 1275.8 L522.2 1270.6 L515.8 1280.9 L513.3 1296.2 L509.4 1309.0 L499.2 1319.3 L491.5 1329.5 L486.4 1342.3 L483.8 1352.0 L688.0 1352.0 L688.0 1250.2Z" fill="#ff541c" />
<path d="M616.9 1288.6 L601.5 1280.9 L586.2 1286.0 L570.8 1291.1 L560.6 1301.4 L547.8 1303.9 L535.0 1301.4 L527.3 1309.0 L524.8 1319.3 L512.0 1321.8 L499.2 1326.9 L494.1 1334.6 L491.5 1352.0 L688.0 1352.0Z" fill="#e43400" />
<path d="M512.0 1275.8 L522.2 1280.9 L524.8 1296.2 L519.6 1309.0 L512.0 1309.0 L510.7 1291.1Z" fill="#e43400" />
<path d="M293.7 974.2 L296.3 983.1 L297.2 995.5 L288.4 1006.2 L290.1 1015.0 L295.5 1023.9 L290.1 1034.6 L293.7 1045.2 L299.0 1055.9 L291.9 1066.5 L286.6 1075.4 L284.8 1084.3 L288.4 1093.1 L284.8 1102.0 L279.5 1110.9 L277.7 1119.8 L272.4 1130.4 L268.8 1141.1 L270.6 1148.2 L275.9 1155.3 L272.4 1160.6 L263.5 1164.2 L254.6 1167.7 L245.8 1173.0 L242.2 1178.4 L210.2 1200.0 L210.2 960.0Z" fill="#ffebdc" />
<path d="M291.9 976.0 L293.7 995.5 L284.8 1006.2 L287.5 1016.8 L290.1 1027.5 L284.8 1038.1 L288.4 1048.8 L293.7 1056.8 L286.6 1068.3 L281.3 1077.2 L280.4 1087.8 L283.0 1096.7 L279.5 1107.3 L275.0 1116.2 L270.6 1128.6 L266.2 1139.3 L266.2 1146.4 L260.0 1155.3 L251.1 1162.4 L244.0 1169.5 L210.2 1200.0 L210.2 960.0Z" fill="#ffd0b8" />
<path d="M289.2 977.8 L290.1 993.7 L281.3 1004.4 L284.8 1018.6 L284.8 1029.2 L279.5 1038.1 L283.0 1048.8 L281.3 1059.4 L279.5 1070.1 L275.9 1080.7 L274.2 1089.6 L277.7 1098.5 L275.9 1107.3 L271.5 1114.4 L266.2 1126.9 L263.5 1137.5 L254.6 1148.2 L245.8 1157.1 L242.2 1164.2 L210.2 1200.0 L210.2 960.0Z" fill="#ffaa88" />
<path d="M283.0 986.6 L284.8 995.5 L277.7 1006.2 L279.5 1018.6 L275.9 1029.2 L263.5 1032.8 L256.4 1031.0 L245.8 1029.2 L263.5 986.6Z" fill="#ff8048" />
<path d="M235.1 1078.9 L247.5 1078.9 L254.6 1082.5 L260.0 1093.1 L261.7 1105.6 L258.2 1119.8 L252.9 1130.4 L249.3 1141.1 L245.8 1151.7 L240.4 1155.3 L228.0 1155.3Z" fill="#ff8048" />
<path d="M279.5 988.4 L281.3 995.5 L275.0 1006.2 L276.8 1016.8 L272.4 1025.7 L263.5 1029.2 L258.2 1027.5 L249.3 1025.7 L267.1 988.4Z" fill="#ff541c" />
<path d="M268.8 1004.4 L272.4 1013.3 L271.5 1020.4 L265.3 1023.9 L260.0 1023.0 L258.2 1018.6 L261.7 1009.7Z" fill="#e43400" />
<path d="M331.6 981.6 L340.6 981.6 L340.6 989.2 L332.9 989.2Z" fill="#ffd0b8" />
<path d="M417.3 1101.6 L432.7 1091.3 L448.0 1087.5 L465.9 1086.2 L478.7 1093.9 L491.5 1096.4 L501.8 1106.7 L506.9 1116.9 L527.4 1111.8 L532.5 1119.5 L522.2 1127.1 L504.3 1132.3 L491.5 1134.8 L481.3 1139.9 L471.1 1145.1 L458.3 1150.2 L448.0 1145.1 L440.4 1137.4 L432.7 1132.3 L427.6 1122.0 L414.8 1114.4Z" fill="#80a8ff" />
<path d="M468.5 1022.2 L481.3 1017.1 L501.8 1022.2 L509.4 1035.0 L514.6 1047.8 L501.8 1050.4 L486.4 1045.3 L473.6 1040.1 L465.9 1029.9Z" fill="#80a8ff" />
<path d="M519.7 1045.3 L532.5 1047.8 L537.6 1058.1 L527.4 1063.2 L519.7 1055.5Z" fill="#b4d0ff" />
<path d="M519.7 1113.1 L531.2 1114.4 L529.9 1123.3 L521.0 1122.0Z" fill="#b4d0ff" />
<path d="M396.9 1155.3 L414.8 1157.9 L430.1 1165.5 L425.0 1180.9 L414.8 1196.2 L402.0 1211.6 L389.2 1221.8 L373.8 1226.9 L358.5 1228.2 L355.9 1220.5 L366.1 1209.0 L381.5 1193.7 L390.5 1175.8Z" fill="#80a8ff" />
<path d="M403.3 1165.5 L422.4 1170.6 L416.0 1188.6 L402.0 1203.9 L384.1 1214.1 L371.3 1216.7 L376.4 1206.5 L390.5 1191.1 L398.1 1178.3Z" fill="#b4d0ff" />
<path d="M409.6 1178.3 L417.3 1180.9 L407.1 1196.2 L399.4 1201.4 L402.0 1188.6Z" fill="#d8ebff" />
<path d="M486.4 1214.4 L499.2 1211.8 L519.6 1214.4 L532.4 1219.5 L524.8 1232.3 L512.0 1242.5 L503.0 1250.2 L494.1 1256.6 L486.4 1251.5 L485.9 1232.3Z" fill="#1c50ff" />
<path d="M394.3 1288.6 L412.2 1283.4 L432.7 1288.6 L430.1 1306.5 L412.2 1314.1 L396.9 1309.0Z" fill="#4078ff" />
<path d="M381.5 976.4 L391.8 963.6 L407.1 958.5 L417.4 966.2 L430.1 976.4 L432.7 994.4 L430.1 1009.7 L422.5 1025.1 L407.1 1030.2 L391.8 1035.3 L376.4 1040.4 L366.2 1045.5 L355.9 1043.0 L345.7 1035.3 L335.5 1025.1 L330.4 1012.3 L335.5 999.5 L348.3 994.4 L366.2 991.8 L376.4 986.7Z" fill="#0030e0" />
<path d="M353.4 999.5 L371.3 994.4 L381.5 1002.0 L376.4 1014.8 L361.1 1014.8 L350.8 1009.7Z" fill="#0020b0" />
<path d="M335.5 1014.8 L348.3 1014.8 L353.4 1025.1 L345.7 1032.7 L338.0 1027.6Z" fill="#0020b0" />
<path d="M404.6 1004.6 L417.4 1002.0 L422.5 1012.3 L412.2 1017.4 L404.6 1012.3Z" fill="#0020b0" />
<path d="M412.2 935.5 L432.7 930.4 L450.6 927.8 L468.0 930.4 L468.0 976.4 L453.2 976.4 L437.8 981.6 L422.5 976.4 L414.8 963.6 L412.2 948.3Z" fill="#0030e0" />
<path d="M432.6 956.0 L448.0 956.0 L473.6 950.9 L499.2 956.0 L524.8 963.6 L545.2 968.8 L560.6 979.0 L568.3 994.4 L565.7 1012.3 L555.5 1022.5 L537.6 1025.1 L519.6 1014.8 L499.2 1009.7 L478.7 1012.3 L463.4 1014.8 L448.0 1012.3 L432.6 1014.8 L414.7 1002.0 L412.2 976.4Z" fill="#0030e0" />
<path d="M432.6 968.8 L448.0 966.2 L468.5 961.1 L494.1 963.6 L519.6 971.3 L545.2 979.0 L558.0 991.8 L558.0 1007.1 L545.2 1014.8 L529.9 1012.3 L514.5 1004.6 L494.1 1002.0 L473.6 1007.1 L458.2 1009.7 L448.0 1004.6 L435.2 1007.1 L422.4 994.4Z" fill="#0020b0" />
<path d="M440.3 984.1 L455.7 971.3 L478.7 966.2 L499.2 971.3 L524.8 979.0 L547.8 989.2 L554.2 1002.0 L547.8 1011.0 L535.0 1007.1 L519.6 999.5 L499.2 994.4 L478.7 999.5 L460.8 1002.0 L448.0 1002.0Z" fill="#00008b" />
<path d="M550.4 943.2 L570.8 945.7 L591.3 950.9 L601.5 963.6 L596.4 979.0 L581.1 986.7 L563.1 984.1 L550.4 973.9 L542.7 958.5Z" fill="#0030e0" />
<path d="M532.4 1068.6 L550.4 1066.0 L568.3 1076.2 L581.1 1091.6 L586.2 1109.5 L581.1 1127.4 L570.8 1132.0 L550.4 1132.0 L535.0 1117.2 L527.3 1096.7 L527.3 1081.4Z" fill="#0030e0" />
<path d="M532.4 1094.1 L545.2 1096.7 L550.4 1109.5 L542.7 1117.2 L532.4 1109.5Z" fill="#0020b0" />
<path d="M473.6 1145.3 L494.1 1137.6 L514.5 1137.6 L532.4 1127.4 L550.4 1117.1 L570.8 1112.0 L586.2 1122.2 L581.1 1142.7 L570.8 1160.6 L555.5 1173.4 L535.0 1183.6 L514.5 1188.8 L494.1 1188.8 L478.7 1183.6 L471.0 1168.3 L468.5 1155.5Z" fill="#0030e0" />
<path d="M486.4 1165.7 L499.2 1158.1 L517.1 1160.6 L524.8 1173.4 L514.5 1186.2 L496.6 1186.2 L486.4 1178.5Z" fill="#0020b0" />
<path d="M338.0 1058.1 L353.4 1063.2 L371.3 1065.7 L386.6 1076.0 L396.9 1088.8 L402.0 1106.7 L412.2 1119.5 L422.4 1132.3 L419.9 1142.5 L404.5 1142.5 L389.2 1145.1 L378.9 1160.4 L368.7 1175.8 L353.4 1186.0 L338.0 1191.1 L317.5 1191.1 L307.3 1165.5 L312.4 1127.1 L317.5 1088.8 L325.2 1063.2Z" fill="#0030e0" />
<path d="M338.0 1096.4 L353.4 1099.0 L371.3 1109.2 L378.9 1124.6 L373.8 1145.1 L366.1 1160.4 L353.4 1170.6 L338.0 1175.8 L322.6 1170.6 L317.5 1145.1 L322.6 1114.4Z" fill="#0020b0" />
<path d="M348.2 1124.6 L363.6 1127.1 L368.7 1139.9 L361.0 1155.3 L348.2 1160.4 L338.0 1150.2 L340.6 1134.8Z" fill="#00008b" />
<path d="M440.4 1155.3 L448.0 1165.5 L445.5 1186.0 L437.8 1206.5 L430.1 1221.8 L419.9 1232.1 L412.2 1226.9 L419.9 1211.6 L427.6 1191.1 L435.2 1173.2Z" fill="#0030e0" />
<path d="M343.1 1214.4 L361.1 1209.2 L371.3 1216.9 L366.2 1227.1 L350.8 1234.8 L343.1 1232.3Z" fill="#0030e0" />
<circle cx="458" cy="1121.3" r="11.3" fill="#fff"/>
<use href="#coast" transform="translate(228,722)"/>
</g>
<circle cx="229.9" cy="399.3" r="223.6" fill="none" stroke="#000" stroke-width="1.4"/>
<circle cx="685.8" cy="399.3" r="223.6" fill="none" stroke="#000" stroke-width="1.4"/>
<circle cx="458" cy="1121.5" r="223.6" fill="none" stroke="#000" stroke-width="1.4"/>
<text x="422.3" y="36.8" font-size="46" font-weight="normal" text-anchor="start" textLength="70" lengthAdjust="spacingAndGlyphs" >JJA</text>
<text x="33" y="78.5" font-size="26" font-weight="bold" text-anchor="start" textLength="395" lengthAdjust="spacingAndGlyphs" >test1_NBF1850AERCN (yrs 16-20)</text>
<text x="628" y="79" font-size="26" font-weight="bold" text-anchor="start" textLength="115" lengthAdjust="spacingAndGlyphs" >ISCCP FD</text>
<text x="257" y="800" font-size="26" font-weight="bold" text-anchor="start" textLength="403" lengthAdjust="spacingAndGlyphs" >test1_NBF1850AERCN - ISCCP FD</text>
<text x="5" y="148.5" font-size="23" font-weight="normal" text-anchor="start" textLength="192" lengthAdjust="spacingAndGlyphs" >Surface net SW flux</text>
<text x="402" y="148.5" font-size="23" font-weight="normal" text-anchor="start" textLength="51" lengthAdjust="spacingAndGlyphs" >W/m<tspan dy="-10" font-size="15">2</tspan></text>
<text x="461" y="148.5" font-size="23" font-weight="normal" text-anchor="start" textLength="192" lengthAdjust="spacingAndGlyphs" >Surface net SW flux</text>
<text x="858" y="148.5" font-size="23" font-weight="normal" text-anchor="start" textLength="51" lengthAdjust="spacingAndGlyphs" >W/m<tspan dy="-10" font-size="15">2</tspan></text>
<text x="233" y="870" font-size="23" font-weight="normal" text-anchor="start" textLength="192" lengthAdjust="spacingAndGlyphs" >Surface net SW flux</text>
<text x="630.5" y="870" font-size="23" font-weight="normal" text-anchor="start" textLength="51" lengthAdjust="spacingAndGlyphs" >W/m<tspan dy="-10" font-size="15">2</tspan></text>
<text x="61.5" y="670.5" font-size="17.3" font-weight="normal" text-anchor="start" textLength="337" lengthAdjust="spacingAndGlyphs" xml:space="preserve">MEAN= 140.60  Min=  32.91  Max= 269.33</text>
<text x="517.5" y="670.5" font-size="17.3" font-weight="normal" text-anchor="start" textLength="337" lengthAdjust="spacingAndGlyphs" xml:space="preserve">MEAN= 160.16  Min=  55.35  Max= 221.83</text>
<text x="707.5" y="942" font-size="17.3" font-weight="normal" text-anchor="start" textLength="226" lengthAdjust="spacingAndGlyphs" xml:space="preserve">MIN = -121.46 MAX =  48.10</text>
<rect x="12.80" y="686.8" width="27.14" height="21.800000000000068" fill="#00008b" stroke="#000" stroke-width="1.2"/>
<rect x="39.94" y="686.8" width="27.14" height="21.800000000000068" fill="#0020b0" stroke="#000" stroke-width="1.2"/>
<rect x="67.08" y="686.8" width="27.14" height="21.800000000000068" fill="#0030e0" stroke="#000" stroke-width="1.2"/>
<rect x="94.21" y="686.8" width="27.14" height="21.800000000000068" fill="#1c50ff" stroke="#000" stroke-width="1.2"/>
<rect x="121.35" y="686.8" width="27.14" height="21.800000000000068" fill="#4078ff" stroke="#000" stroke-width="1.2"/>
<rect x="148.49" y="686.8" width="27.14" height="21.800000000000068" fill="#80a8ff" stroke="#000" stroke-width="1.2"/>
<rect x="175.62" y="686.8" width="27.14" height="21.800000000000068" fill="#b4d0ff" stroke="#000" stroke-width="1.2"/>
<rect x="202.76" y="686.8" width="27.14" height="21.800000000000068" fill="#d8ebff" stroke="#000" stroke-width="1.2"/>
<rect x="229.90" y="686.8" width="27.14" height="21.800000000000068" fill="#ffebdc" stroke="#000" stroke-width="1.2"/>
<rect x="257.04" y="686.8" width="27.14" height="21.800000000000068" fill="#ffd0b8" stroke="#000" stroke-width="1.2"/>
<rect x="284.18" y="686.8" width="27.14" height="21.800000000000068" fill="#ffaa88" stroke="#000" stroke-width="1.2"/>
<rect x="311.31" y="686.8" width="27.14" height="21.800000000000068" fill="#ff8048" stroke="#000" stroke-width="1.2"/>
<rect x="338.45" y="686.8" width="27.14" height="21.800000000000068" fill="#ff541c" stroke="#000" stroke-width="1.2"/>
<rect x="365.59" y="686.8" width="27.14" height="21.800000000000068" fill="#e43400" stroke="#000" stroke-width="1.2"/>
<rect x="392.73" y="686.8" width="27.14" height="21.800000000000068" fill="#b82400" stroke="#000" stroke-width="1.2"/>
<rect x="419.86" y="686.8" width="27.14" height="21.800000000000068" fill="#8b0000" stroke="#000" stroke-width="1.2"/>
<text x="39.9" y="733" font-size="17" font-weight="normal" text-anchor="middle" >0</text>
<text x="94.2" y="733" font-size="17" font-weight="normal" text-anchor="middle" >50</text>
<text x="148.5" y="733" font-size="17" font-weight="normal" text-anchor="middle" >100</text>
<text x="202.8" y="733" font-size="17" font-weight="normal" text-anchor="middle" >150</text>
<text x="257.0" y="733" font-size="17" font-weight="normal" text-anchor="middle" >200</text>
<text x="311.3" y="733" font-size="17" font-weight="normal" text-anchor="middle" >240</text>
<text x="365.6" y="733" font-size="17" font-weight="normal" text-anchor="middle" >280</text>
<text x="419.9" y="733" font-size="17" font-weight="normal" text-anchor="middle" >320</text>
<rect x="468.80" y="686.8" width="27.14" height="21.800000000000068" fill="#00008b" stroke="#000" stroke-width="1.2"/>
<rect x="495.94" y="686.8" width="27.14" height="21.800000000000068" fill="#0020b0" stroke="#000" stroke-width="1.2"/>
<rect x="523.08" y="686.8" width="27.14" height="21.800000000000068" fill="#0030e0" stroke="#000" stroke-width="1.2"/>
<rect x="550.21" y="686.8" width="27.14" height="21.800000000000068" fill="#1c50ff" stroke="#000" stroke-width="1.2"/>
<rect x="577.35" y="686.8" width="27.14" height="21.800000000000068" fill="#4078ff" stroke="#000" stroke-width="1.2"/>
<rect x="604.49" y="686.8" width="27.14" height="21.800000000000068" fill="#80a8ff" stroke="#000" stroke-width="1.2"/>
<rect x="631.62" y="686.8" width="27.14" height="21.800000000000068" fill="#b4d0ff" stroke="#000" stroke-width="1.2"/>
<rect x="658.76" y="686.8" width="27.14" height="21.800000000000068" fill="#d8ebff" stroke="#000" stroke-width="1.2"/>
<rect x="685.90" y="686.8" width="27.14" height="21.800000000000068" fill="#ffebdc" stroke="#000" stroke-width="1.2"/>
<rect x="713.04" y="686.8" width="27.14" height="21.800000000000068" fill="#ffd0b8" stroke="#000" stroke-width="1.2"/>
<rect x="740.17" y="686.8" width="27.14" height="21.800000000000068" fill="#ffaa88" stroke="#000" stroke-width="1.2"/>
<rect x="767.31" y="686.8" width="27.14" height="21.800000000000068" fill="#ff8048" stroke="#000" stroke-width="1.2"/>
<rect x="794.45" y="686.8" width="27.14" height="21.800000000000068" fill="#ff541c" stroke="#000" stroke-width="1.2"/>
<rect x="821.59" y="686.8" width="27.14" height="21.800000000000068" fill="#e43400" stroke="#000" stroke-width="1.2"/>
<rect x="848.73" y="686.8" width="27.14" height="21.800000000000068" fill="#b82400" stroke="#000" stroke-width="1.2"/>
<rect x="875.86" y="686.8" width="27.14" height="21.800000000000068" fill="#8b0000" stroke="#000" stroke-width="1.2"/>
<text x="495.9" y="733" font-size="17" font-weight="normal" text-anchor="middle" >0</text>
<text x="550.2" y="733" font-size="17" font-weight="normal" text-anchor="middle" >50</text>
<text x="604.5" y="733" font-size="17" font-weight="normal" text-anchor="middle" >100</text>
<text x="658.8" y="733" font-size="17" font-weight="normal" text-anchor="middle" >150</text>
<text x="713.0" y="733" font-size="17" font-weight="normal" text-anchor="middle" >200</text>
<text x="767.3" y="733" font-size="17" font-weight="normal" text-anchor="middle" >240</text>
<text x="821.6" y="733" font-size="17" font-weight="normal" text-anchor="middle" >280</text>
<text x="875.9" y="733" font-size="17" font-weight="normal" text-anchor="middle" >320</text>
<rect x="785" y="1319.00" width="41" height="22.50" fill="#00008b" stroke="#000" stroke-width="1.2"/>
<rect x="785" y="1296.50" width="41" height="22.50" fill="#0020b0" stroke="#000" stroke-width="1.2"/>
<rect x="785" y="1274.00" width="41" height="22.50" fill="#0030e0" stroke="#000" stroke-width="1.2"/>
<rect x="785" y="1251.50" width="41" height="22.50" fill="#1c50ff" stroke="#000" stroke-width="1.2"/>
<rect x="785" y="1229.00" width="41" height="22.50" fill="#4078ff" stroke="#000" stroke-width="1.2"/>
<rect x="785" y="1206.50" width="41" height="22.50" fill="#80a8ff" stroke="#000" stroke-width="1.2"/>
<rect x="785" y="1184.00" width="41" height="22.50" fill="#b4d0ff" stroke="#000" stroke-width="1.2"/>
<rect x="785" y="1161.50" width="41" height="22.50" fill="#d8ebff" stroke="#000" stroke-width="1.2"/>
<rect x="785" y="1139.00" width="41" height="22.50" fill="#ffebdc" stroke="#000" stroke-width="1.2"/>
<rect x="785" y="1116.50" width="41" height="22.50" fill="#ffd0b8" stroke="#000" stroke-width="1.2"/>
<rect x="785" y="1094.00" width="41" height="22.50" fill="#ffaa88" stroke="#000" stroke-width="1.2"/>
<rect x="785" y="1071.50" width="41" height="22.50" fill="#ff8048" stroke="#000" stroke-width="1.2"/>
<rect x="785" y="1049.00" width="41" height="22.50" fill="#ff541c" stroke="#000" stroke-width="1.2"/>
<rect x="785" y="1026.50" width="41" height="22.50" fill="#e43400" stroke="#000" stroke-width="1.2"/>
<rect x="785" y="1004.00" width="41" height="22.50" fill="#b82400" stroke="#000" stroke-width="1.2"/>
<rect x="785" y="981.50" width="41" height="22.50" fill="#8b0000" stroke="#000" stroke-width="1.2"/>
<text x="856" y="1325.0" font-size="17" font-weight="normal" text-anchor="end" >-80</text>
<text x="856" y="1302.5" font-size="17" font-weight="normal" text-anchor="end" >-60</text>
<text x="856" y="1280.0" font-size="17" font-weight="normal" text-anchor="end" >-40</text>
<text x="856" y="1257.5" font-size="17" font-weight="normal" text-anchor="end" >-30</text>
<text x="856" y="1235.0" font-size="17" font-weight="normal" text-anchor="end" >-20</text>
<text x="856" y="1212.5" font-size="17" font-weight="normal" text-anchor="end" >-10</text>
<text x="856" y="1190.0" font-size="17" font-weight="normal" text-anchor="end" >-5</text>
<text x="856" y="1167.5" font-size="17" font-weight="normal" text-anchor="end" >0</text>
<text x="856" y="1145.0" font-size="17" font-weight="normal" text-anchor="end" >5</text>
<text x="856" y="1122.5" font-size="17" font-weight="normal" text-anchor="end" >10</text>
<text x="856" y="1100.0" font-size="17" font-weight="normal" text-anchor="end" >20</text>
<text x="856" y="1077.5" font-size="17" font-weight="normal" text-anchor="end" >30</text>
<text x="856" y="1055.0" font-size="17" font-weight="normal" text-anchor="end" >40</text>
<text x="856" y="1032.5" font-size="17" font-weight="normal" text-anchor="end" >60</text>
<text x="856" y="1010.0" font-size="17" font-weight="normal" text-anchor="end" >80</text>
</svg></body></html>
